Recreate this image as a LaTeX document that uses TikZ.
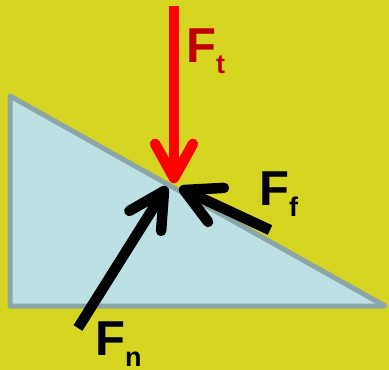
\documentclass[tikz,border=0pt]{standalone}
\usepackage{fontspec}
\setmainfont{Liberation Sans}
\usetikzlibrary{calc}
\definecolor{bg}{RGB}{214,214,34}
\definecolor{wedgefill}{RGB}{189,224,228}
\definecolor{wedgeline}{RGB}{140,166,168}
\definecolor{darkred}{RGB}{192,0,0}
\begin{document}
\begin{tikzpicture}[x=1pt,y=-1pt,
  shaft/.style={line width=10.5pt, line cap=butt},
  barb/.style={line width=10.5pt, line cap=round, line join=round},
  lbl/.style={inner sep=0pt, anchor=base west, font=\bfseries\fontsize{49}{49}\selectfont}]
\fill[bg] (0,0) rectangle (389,370);
\useasboundingbox (0,0) rectangle (389,370);
% wedge
\coordinate (W1) at (10,96);
\coordinate (W2) at (10,306);
\coordinate (W3) at (385,306);
\filldraw[fill=wedgefill, draw=wedgeline, line width=5pt, line join=round] (W1) -- (W2) -- (W3) -- cycle;
% red arrow F_t
\coordinate (Tt) at (174,6);
\coordinate (At) at (174,178);
\draw[shaft, red] (Tt) -- (At);
\draw[barb, red] ($(At)!39pt!29:(Tt)$) -- (At) -- ($(At)!39pt!-29:(Tt)$);
% black arrow F_n
\coordinate (Tn) at (78,328);
\coordinate (An) at (164,191);
\draw[shaft, black] (Tn) -- (An);
\draw[barb, black] ($(An)!40pt!28:(Tn)$) -- (An) -- ($(An)!40pt!-28:(Tn)$);
% black arrow F_f
\coordinate (Tf) at (270,230);
\coordinate (Af) at (184,190);
\draw[shaft, black] (Tf) -- (Af);
\draw[barb, black] ($(Af)!40pt!28:(Tf)$) -- (Af) -- ($(Af)!40pt!-28:(Tf)$);
% labels
\node[lbl, text=darkred] (Lt) at (186,62) {F\raisebox{-11pt}[0pt][0pt]{\fontsize{27}{27}\selectfont t}};
\node[lbl, text=black] (Lf) at (259,205) {F\raisebox{-11pt}[0pt][0pt]{\fontsize{27}{27}\selectfont f}};
\node[lbl, text=black] (Ln) at (95,355) {F\raisebox{-11pt}[0pt][0pt]{\fontsize{27}{27}\selectfont n}};
\end{tikzpicture}
\end{document}
